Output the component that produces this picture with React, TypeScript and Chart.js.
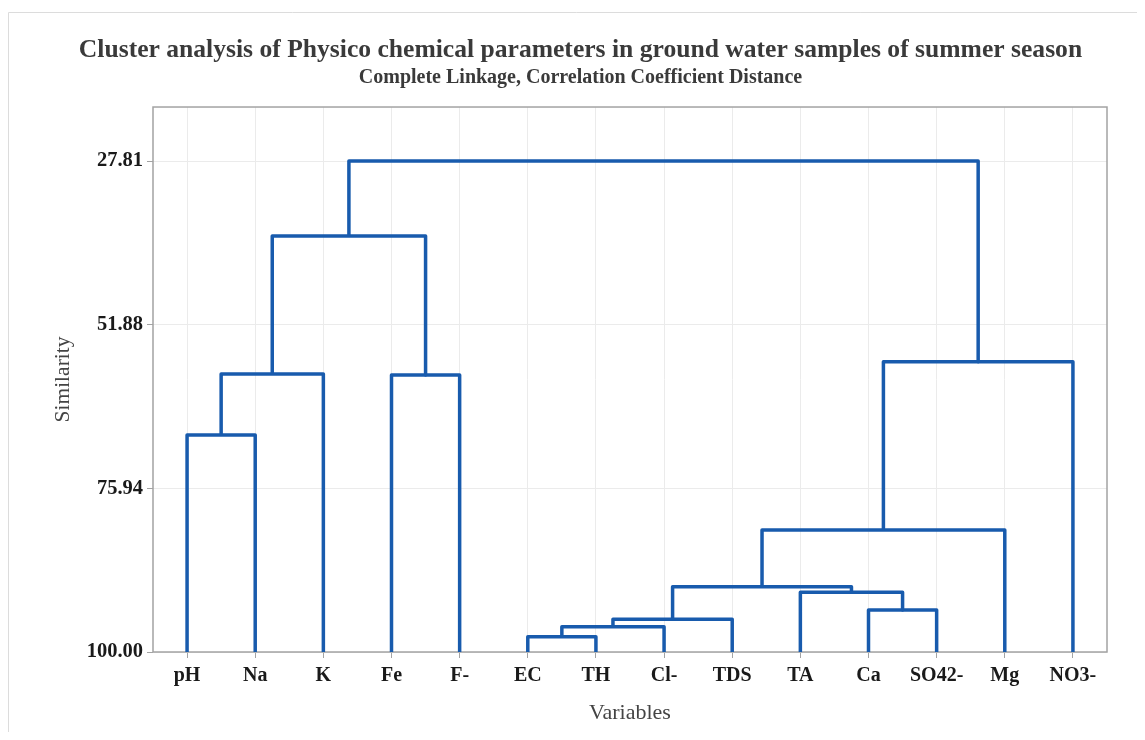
import React, { useEffect, useRef } from "react";
import { Chart, registerables } from "chart.js";

Chart.register(...registerables);

// Leaves (variables) in dendrogram order
const categories = ["pH", "Na", "K", "Fe", "F-", "EC", "TH", "Cl-", "TDS", "TA", "Ca", "SO42-", "Mg", "NO3-"];

// Linkage steps: cluster ids 0..13 are leaves, each merge creates id 14, 15, ...
const mergeLeft = [0, 14, 3, 15, 5, 18, 19, 10, 9, 20, 23, 24, 17];
const mergeRight = [1, 2, 4, 16, 6, 7, 8, 11, 21, 22, 12, 13, 25];
const mergeSimilarity = [68.1, 59.13, 59.27, 38.84, 97.75, 96.28, 95.19, 93.83, 91.22, 90.4, 82.06, 57.32, 27.81];

const yTicks = [27.81, 51.88, 75.94, 100.0];

const LINE_COLOR = "#185bad";
const SERIF = "'Liberation Serif', 'Times New Roman', serif";

function buildDatasets() {
  const nodeX: number[] = categories.map((_, i) => i);
  const nodeY: number[] = categories.map(() => 100);
  const datasets: any[] = [];
  mergeLeft.forEach((l, k) => {
    const r = mergeRight[k];
    const h = mergeSimilarity[k];
    datasets.push({
      data: [
        { x: nodeX[l], y: nodeY[l] },
        { x: nodeX[l], y: h },
        { x: nodeX[r], y: h },
        { x: nodeX[r], y: nodeY[r] },
      ],
      borderColor: LINE_COLOR,
      borderWidth: 3.5,
      borderJoinStyle: "round",
      borderCapStyle: "butt",
      pointRadius: 0,
      fill: false,
      tension: 0,
      yAxisID: "y",
    });
    nodeX.push((nodeX[l] + nodeX[r]) / 2);
    nodeY.push(h);
  });
  return datasets;
}

const framePlugin = {
  id: "framePlugin",
  beforeDraw(chart: any) {
    const { ctx } = chart;
    ctx.save();
    ctx.fillStyle = "#ffffff";
    ctx.fillRect(0, 0, chart.width, chart.height);
    ctx.strokeStyle = "#dcdcdc";
    ctx.lineWidth = 1;
    ctx.beginPath();
    ctx.moveTo(0.5, chart.height);
    ctx.lineTo(0.5, 4.5);
    ctx.lineTo(chart.width, 4.5);
    ctx.stroke();
    ctx.restore();
  },
  beforeDatasetsDraw(chart: any) {
    const { ctx, chartArea } = chart;
    ctx.save();
    ctx.strokeStyle = "#a3a3a3";
    ctx.lineWidth = 1.5;
    ctx.strokeRect(chartArea.left, chartArea.top, chartArea.right - chartArea.left, chartArea.bottom - chartArea.top);
    ctx.restore();
  },
};

export default function App() {
  const canvasRef = useRef<HTMLCanvasElement | null>(null);

  useEffect(() => {
    if (!canvasRef.current) return;
    const chart = new Chart(canvasRef.current, {
      type: "line",
      data: { datasets: buildDatasets() },
      options: {
        animation: false,
        responsive: false,
        maintainAspectRatio: false,
        layout: { padding: { left: 8, right: 0, top: 0, bottom: 0 } },
        plugins: {
          legend: { display: false },
          tooltip: { enabled: false },
          title: {
            display: true,
            text: "Cluster analysis of Physico chemical parameters in ground water samples of summer season",
            color: "#3a3a3a",
            font: { family: SERIF, size: 25.6, weight: "bold", lineHeight: 1.2 },
            padding: { top: 27.5, bottom: 0 },
          },
          subtitle: {
            display: true,
            text: "Complete Linkage, Correlation Coefficient Distance",
            color: "#3a3a3a",
            font: { family: SERIF, size: 20, weight: "bold", lineHeight: 1.2 },
            padding: { top: 0, bottom: 16.8 },
          },
        },
        scales: {
          x: {
            type: "linear",
            min: -0.5,
            max: 13.5,
            afterBuildTicks: (axis: any) => {
              axis.ticks = categories.map((_, i) => ({ value: i }));
            },
            afterFit: (axis: any) => {
              axis.height = 80;
            },
            ticks: {
              callback: (v: any) => categories[Math.round(Number(v))] ?? "",
              color: "#1a1a1a",
              font: { family: SERIF, size: 20, weight: "bold" },
              padding: 6,
              maxRotation: 0,
              autoSkip: false,
            },
            grid: { color: "#ebebeb", lineWidth: 1, tickColor: "#a3a3a3", tickLength: 6, drawTicks: true },
            border: { display: false },
            title: {
              display: true,
              text: "Variables",
              color: "#444444",
              font: { family: SERIF, size: 22, lineHeight: 1.2 },
              padding: { top: 0, bottom: 6 },
            },
          },
          y: {
            type: "linear",
            position: "left",
            reverse: true,
            min: 19.87,
            max: 100,
            afterBuildTicks: (axis: any) => {
              axis.ticks = yTicks.map((v) => ({ value: v }));
            },
            afterFit: (axis: any) => {
              axis.width = 137;
            },
            ticks: {
              callback: (v: any) => Number(v).toFixed(2),
              color: "#1a1a1a",
              font: { family: SERIF, size: 20.5, weight: "bold" },
              padding: 4,
              autoSkip: false,
            },
            grid: { color: "#ebebeb", lineWidth: 1, tickColor: "#a3a3a3", tickLength: 6, drawTicks: true },
            border: { display: false },
            title: {
              display: true,
              text: "Similarity",
              color: "#444444",
              font: { family: SERIF, size: 21.5, lineHeight: 1.2 },
              padding: { top: 34, bottom: 0 },
            },
          },
          yRight: {
            type: "linear",
            position: "right",
            display: true,
            afterFit: (axis: any) => {
              axis.width = 38;
            },
            ticks: { display: false },
            grid: { display: false, drawTicks: false },
            border: { display: false },
            title: { display: false },
          },
        },
      },
      plugins: [framePlugin],
    } as any);
    return () => chart.destroy();
  }, []);

  return (
    <div style={{ width: 1137, height: 724 }}>
      <canvas ref={canvasRef} width={1137} height={724} style={{ display: "block", width: 1137, height: 724 }} />
    </div>
  );
}
